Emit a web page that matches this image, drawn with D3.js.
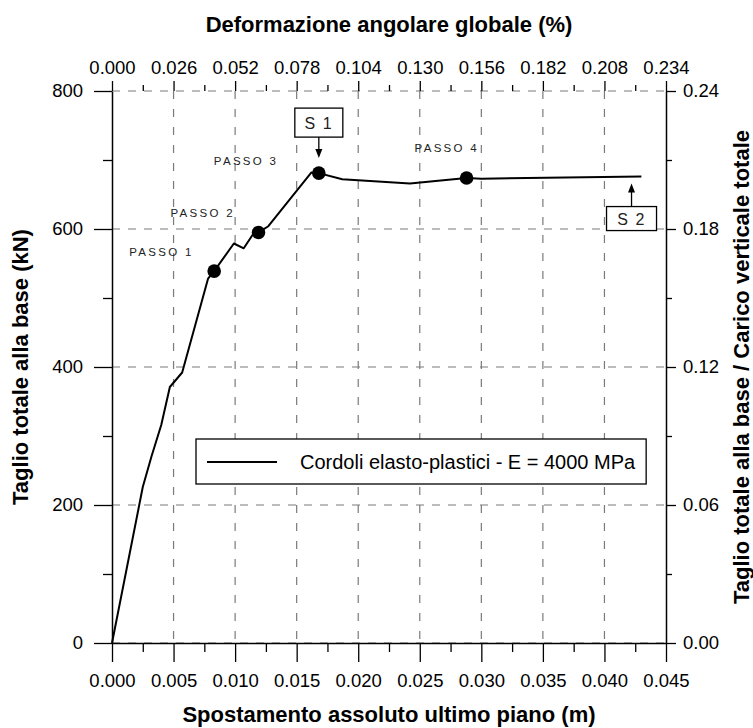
<!DOCTYPE html>
<html><head><meta charset="utf-8">
<script src="https://cdn.jsdelivr.net/npm/d3@7"></script>
<style>
body{margin:0;background:#fff}
svg{display:block}
text{font-family:"Liberation Sans",Arial,Helvetica,sans-serif}
</style>
</head><body>
<svg id="chart" width="753" height="728"></svg>
<script>
// ---------------- data ----------------
const displacement = [0, 0.0025, 0.0032, 0.0040, 0.0047, 0.0057, 0.0078, 0.0083, 0.0099, 0.0107, 0.0114, 0.0119, 0.0127, 0.0162, 0.0168, 0.0187, 0.0242, 0.0288, 0.0300, 0.0430];
const baseShear    = [0, 226, 270, 316, 371, 392, 528, 539, 579, 572, 591, 595, 604, 682, 681, 672, 666, 674, 673, 676];
const stepLabels = ["PASSO 1", "PASSO 2", "PASSO 3", "PASSO 4"];
const stepDisp   = [0.0083, 0.0119, 0.0168, 0.0288];
const stepShear  = [539, 595, 681, 674];
const calloutLabels = ["S 1", "S 2"];
const calloutDisp   = [0.0168, 0.0422];
const calloutShear  = [681, 676];
const xTickValues = [0, 0.005, 0.010, 0.015, 0.020, 0.025, 0.030, 0.035, 0.040, 0.045];
const topTickLabels = ["0.000","0.026","0.052","0.078","0.104","0.130","0.156","0.182","0.208","0.234"];
const yTickValues = [0, 200, 400, 600, 800];
const rightTickLabels = ["0.00","0.06","0.12","0.18","0.24"];
const seriesName = "Cordoli elasto-plastici - E = 4000 MPa";
const xTitle = "Spostamento assoluto ultimo piano (m)";
const topTitle = "Deformazione angolare globale (%)";
const yTitle = "Taglio totale alla base (kN)";
const rightTitle = "Taglio totale alla base / Carico verticale totale";

// ---------------- layout ----------------
const L = 112, R = 666, T = 91, B = 643;
const svg = d3.select("#chart");
const x = d3.scaleLinear().domain([0, 0.045]).range([L, R]);
const y = d3.scaleLinear().domain([0, 800]).range([B, T]);
const xTop = d3.scaleLinear().domain([0, 0.234]).range([L, R]);
const yR = d3.scaleLinear().domain([0, 0.24]).range([B, T]);

const tickFont = 18.5, titleFont = 22;
const gridColor = "#7a7a7a";

// grid
const grid = svg.append("g");
grid.selectAll("line.v").data(xTickValues.slice(1, -1)).join("line")
  .attr("x1", d => x(d)).attr("x2", d => x(d)).attr("y1", T).attr("y2", B)
  .attr("stroke", gridColor).attr("stroke-width", 1.2).attr("stroke-dasharray", "8,10");
grid.selectAll("line.h").data(yTickValues).join("line")
  .attr("x1", L).attr("x2", R).attr("y1", d => y(d)).attr("y2", d => y(d))
  .attr("stroke", gridColor).attr("stroke-width", 1.2).attr("stroke-dasharray", "8,8");

function styleAxis(g) {
  g.selectAll("text").attr("font-size", tickFont).attr("fill", "#000").attr("font-family", "Liberation Sans, Arial, sans-serif");
  g.selectAll("line").attr("stroke", "#000").attr("stroke-width", 1.3);
  g.select(".domain").attr("stroke", "#000").attr("stroke-width", 1.5);
}
function mids(arr) { const out = []; for (let i = 0; i < arr.length - 1; i++) out.push((arr[i] + arr[i+1]) / 2); return out; }

// bottom axis
const gB = svg.append("g").attr("transform", `translate(0,${B})`)
  .call(d3.axisBottom(x).tickValues(xTickValues).tickSize(19).tickSizeOuter(0).tickPadding(12).tickFormat(d3.format(".3f")));
styleAxis(gB);
svg.append("g").attr("transform", `translate(0,${B})`)
  .call(d3.axisBottom(x).tickValues(mids(xTickValues)).tickSize(9).tickFormat(""))
  .call(g => g.select(".domain").remove()).call(styleAxis);

// left axis
const gL = svg.append("g").attr("transform", `translate(${L},0)`)
  .call(d3.axisLeft(y).tickValues(yTickValues).tickSize(18).tickSizeOuter(0).tickPadding(11).tickFormat(d3.format("d")));
styleAxis(gL);
svg.append("g").attr("transform", `translate(${L},0)`)
  .call(d3.axisLeft(y).tickValues(mids(yTickValues)).tickSize(9).tickFormat(""))
  .call(g => g.select(".domain").remove()).call(styleAxis);

// right axis
const gR = svg.append("g").attr("transform", `translate(${R},0)`)
  .call(d3.axisRight(yR).tickValues(yTickValues.map(v => v * 0.0003)).tickSize(10).tickSizeOuter(0).tickPadding(7)
    .tickFormat((d, i) => rightTickLabels[i]));
styleAxis(gR);
svg.append("g").attr("transform", `translate(${R},0)`)
  .call(d3.axisRight(yR).tickValues(mids(yTickValues).map(v => v * 0.0003)).tickSize(6).tickFormat(""))
  .call(g => g.select(".domain").remove()).call(styleAxis);

// top axis (ticks only, the top line is the dashed grid line)
const topVals = topTickLabels.map(s => +s);
const gT = svg.append("g").attr("transform", `translate(0,${T})`)
  .call(d3.axisTop(xTop).tickValues(topVals).tickSize(10).tickPadding(7).tickFormat((d, i) => topTickLabels[i]));
styleAxis(gT);
gT.select(".domain").remove();
svg.append("g").attr("transform", `translate(0,${T})`)
  .call(d3.axisTop(xTop).tickValues(mids(topVals)).tickSize(6).tickFormat(""))
  .call(g => g.select(".domain").remove()).call(styleAxis);

// titles
svg.append("text").attr("x", (L + R) / 2).attr("y", 32).attr("text-anchor", "middle")
  .attr("font-size", titleFont).attr("font-weight", "bold").text(topTitle);
svg.append("text").attr("x", (L + R) / 2).attr("y", 722).attr("text-anchor", "middle")
  .attr("font-size", titleFont).attr("font-weight", "bold").text(xTitle);
svg.append("text").attr("transform", `translate(28,${(T + B) / 2}) rotate(-90)`).attr("text-anchor", "middle")
  .attr("font-size", titleFont).attr("font-weight", "bold").text(yTitle);
svg.append("text").attr("transform", `translate(749,${(T + B) / 2}) rotate(-90)`).attr("text-anchor", "middle")
  .attr("font-size", titleFont).attr("font-weight", "bold").text(rightTitle);

// curve
const pts = displacement.map((d, i) => [d, baseShear[i]]);
svg.append("path").datum(pts)
  .attr("d", d3.line().x(d => x(d[0])).y(d => y(d[1])))
  .attr("fill", "none").attr("stroke", "#000").attr("stroke-width", 2).attr("stroke-linejoin", "round");

// step markers
svg.selectAll("circle.step").data(stepDisp).join("circle")
  .attr("cx", d => x(d)).attr("cy", (d, i) => y(stepShear[i])).attr("r", 6.8).attr("fill", "#000");

// step labels (offset in px from their marker)
const stepLabelOffset = [[-85, -15], [-88, -15], [-105, -8], [-52, -26]];
svg.selectAll("text.step").data(stepLabels).join("text")
  .attr("x", (d, i) => x(stepDisp[i]) + stepLabelOffset[i][0])
  .attr("y", (d, i) => y(stepShear[i]) + stepLabelOffset[i][1])
  .attr("font-size", 11.5).attr("letter-spacing", 2.3).attr("fill", "#222").text(d => d);

// callouts
const calloutGeom = [
  {dir: -1, boxW: 48, boxH: 29, gap: 15, stem: 21},   // box above, arrow pointing down
  {dir: 1,  boxW: 50, boxH: 24, gap: 7,  stem: 23}    // box below, arrow pointing up
];
calloutLabels.forEach((lab, i) => {
  const g = calloutGeom[i];
  const cx = x(calloutDisp[i]);
  const py = y(calloutShear[i]);
  const tip = py + g.dir * g.gap;
  const boxEdge = tip + g.dir * g.stem;
  const boxTop = g.dir < 0 ? boxEdge - g.boxH : boxEdge;
  svg.append("rect").attr("x", cx - g.boxW / 2).attr("y", boxTop).attr("width", g.boxW).attr("height", g.boxH)
    .attr("fill", "#fff").attr("stroke", "#000").attr("stroke-width", 1.3);
  svg.append("text").attr("x", cx).attr("y", boxTop + g.boxH / 2 + 6).attr("text-anchor", "middle")
    .attr("font-size", 16).attr("letter-spacing", 1.5).attr("fill", "#222").text(lab);
  svg.append("line").attr("x1", cx).attr("x2", cx).attr("y1", boxEdge).attr("y2", tip + g.dir * 6)
    .attr("stroke", "#000").attr("stroke-width", 1.3);
  svg.append("path").attr("d", `M${cx},${tip} L${cx - 3.5},${tip + g.dir * 9} L${cx + 3.5},${tip + g.dir * 9} Z`)
    .attr("fill", "#000");
});

// legend
const lg = svg.append("g");
const lgRect = lg.append("rect").attr("x", 196).attr("y", 439).attr("height", 45)
  .attr("fill", "#fff").attr("stroke", "#000").attr("stroke-width", 1.3);
lg.append("line").attr("x1", 207).attr("x2", 277).attr("y1", 462).attr("y2", 462).attr("stroke", "#000").attr("stroke-width", 1.8);
const lt = lg.append("text").attr("x", 300).attr("y", 469).attr("font-size", 20).text(seriesName);
const tl = lt.node().getComputedTextLength();
lgRect.attr("width", 300 + tl + 11 - 196);
</script>
</body></html>
